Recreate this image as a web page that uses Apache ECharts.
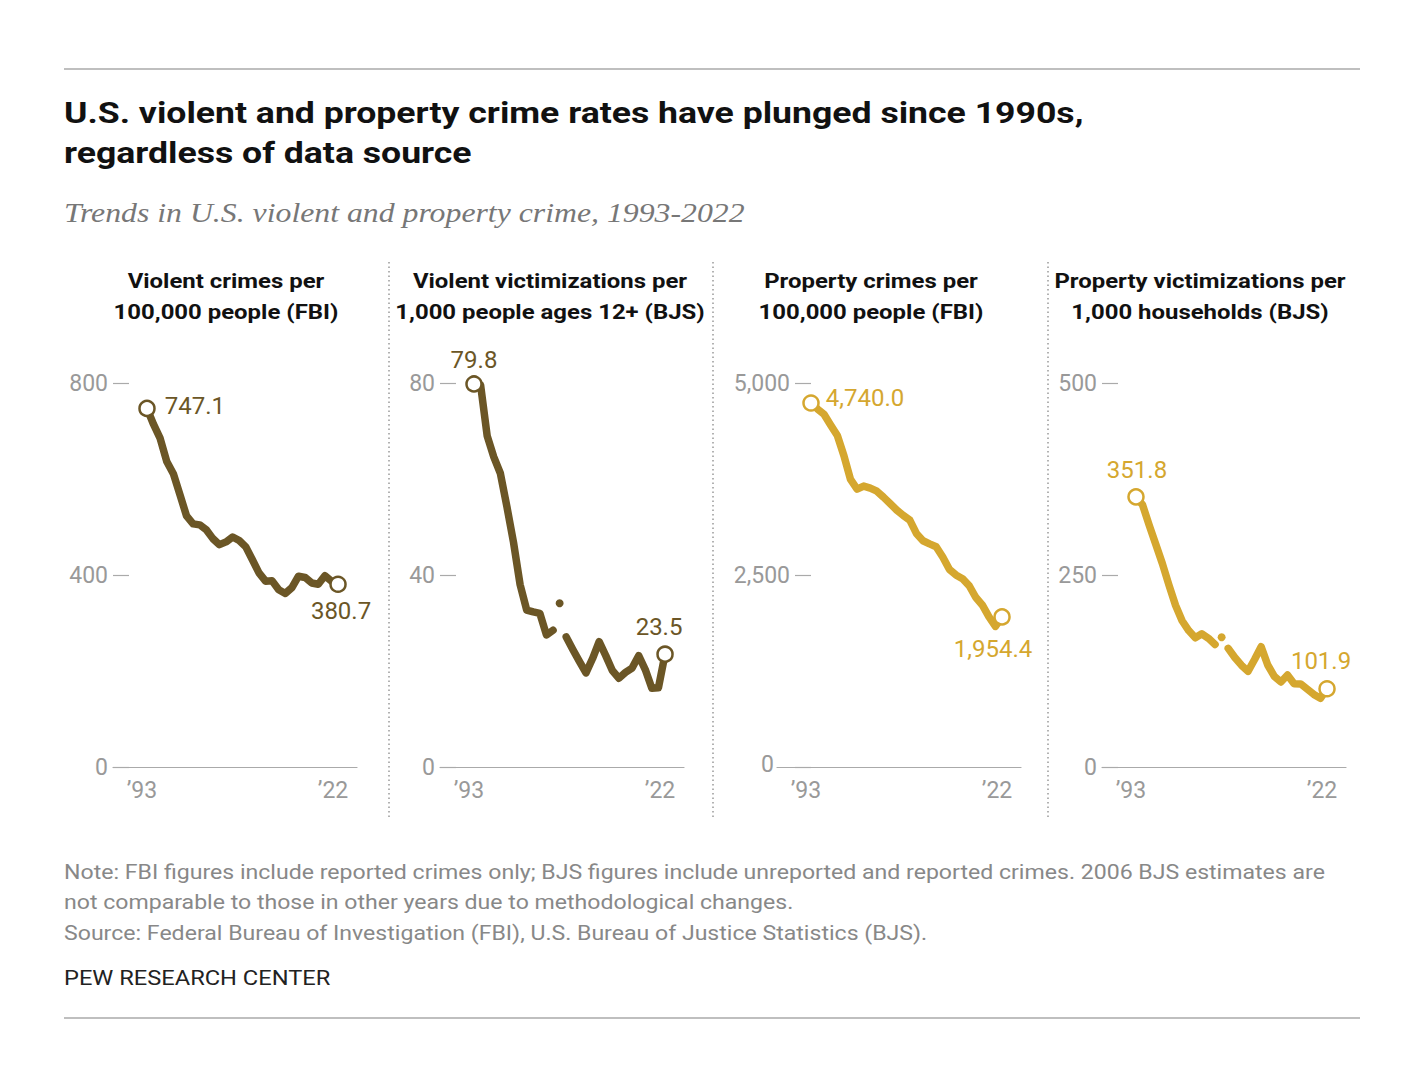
<!DOCTYPE html>
<html>
<head>
<meta charset="utf-8">
<script src="https://cdn.jsdelivr.net/npm/echarts@6/dist/echarts.min.js"></script>
<style>
html,body{margin:0;padding:0;background:#fff;}
#chart{width:1420px;height:1083px;}
</style>
</head>
<body>
<div id="chart"></div>
<script>
// ---------- DATA ----------
const years = [1993,1994,1995,1996,1997,1998,1999,2000,2001,2002,2003,2004,2005,2006,2007,2008,2009,2010,2011,2012,2013,2014,2015,2016,2017,2018,2019,2020,2021,2022];

// Violent crimes per 100,000 people (FBI)
const violentFBI = [747.1,713.6,684.5,636.6,611.0,567.6,523.0,506.5,504.5,494.4,475.8,463.2,469.0,479.3,471.8,458.6,431.9,404.5,387.1,387.8,369.1,361.6,373.7,397.5,394.9,383.4,380.8,398.5,387.0,380.7];

// Violent victimizations per 1,000 people ages 12+ (BJS); 2006 shown separately
const violentBJS = [79.8,79.6,69.0,64.6,61.2,54.2,46.8,38.0,32.7,32.3,32.0,27.5,28.5,null,27.1,24.5,22.0,19.6,22.6,26.1,23.2,20.1,18.5,19.7,20.6,23.2,20.3,16.4,16.5,23.5];
const violentBJS2006 = 34.1;

// Property crimes per 100,000 people (FBI)
const propertyFBI = [4740.0,4660.2,4590.5,4451.0,4316.3,4052.5,3743.6,3618.3,3658.1,3630.6,3591.2,3514.1,3431.5,3346.6,3276.4,3214.6,3041.3,2945.9,2905.4,2868.0,2733.6,2574.1,2500.5,2451.6,2362.9,2209.8,2109.9,1958.2,1832.3,1954.4];

// Property victimizations per 1,000 households (BJS); 2006 shown separately
const propertyBJS = [351.8,341.2,315.0,290.0,265.0,237.0,210.6,190.4,177.7,168.2,173.4,167.5,159.5,null,154.5,142.6,132.6,124.5,140.0,156.6,132.8,118.1,110.7,119.8,108.4,108.2,101.4,94.5,89.4,101.9];
const propertyBJS2006 = 168.9;

const panelTitles = [
  ["Violent crimes per","100,000 people (FBI)"],
  ["Violent victimizations per","1,000 people ages 12+ (BJS)"],
  ["Property crimes per","100,000 people (FBI)"],
  ["Property victimizations per","1,000 households (BJS)"]
];
const yMaxes = [800, 80, 5000, 500];
const yIntervals = [400, 40, 2500, 250];
const xLabelYears = [1993, 2022];

const titleLines = ["U.S. violent and property crime rates have plunged since 1990s,","regardless of data source"];
const subtitle = "Trends in U.S. violent and property crime, 1993-2022";
const noteLines = [
  "Note: FBI figures include reported crimes only; BJS figures include unreported and reported crimes. 2006 BJS estimates are",
  "not comparable to those in other years due to methodological changes.",
  "Source: Federal Bureau of Investigation (FBI), U.S. Bureau of Justice Statistics (BJS)."
];
const credit = "PEW RESEARCH CENTER";

// ---------- STYLE / LAYOUT ----------
const BROWN = '#6b5626';
const GOLD = '#d5a72f';
const FONT = 'Roboto, "Open Sans", sans-serif';
const gridLefts = [113, 440, 777, 1102];
const gridWidth = 244;
const yAxisOffsets = [0, 0, -18, 0];
const headerCenters = [226, 550, 871, 1200];
const separatorsX = [389, 713, 1048];

const panels = [
  {vals: violentFBI, color: BROWN, extra: null,
   startLabel: {position:'right', distance:9, offset:[0,-2]},
   endLabel: {position:'bottom', distance:6, offset:[3,0]}},
  {vals: violentBJS, color: BROWN, extra: violentBJS2006,
   startLabel: {position:'top', distance:3, offset:[0,0]},
   endLabel: {position:'top', distance:6, offset:[-6,0]}},
  {vals: propertyFBI, color: GOLD, extra: null,
   startLabel: {position:'right', distance:6, offset:[0,-5]},
   endLabel: {position:'bottom', distance:11, offset:[-9,0]}},
  {vals: propertyBJS, color: GOLD, extra: propertyBJS2006,
   startLabel: {position:'top', distance:6, offset:[1,0]},
   endLabel: {position:'top', distance:7, offset:[-6,0]}}
];

function fmt(v, comma){
  return comma ? v.toLocaleString('en-US',{minimumFractionDigits:1, maximumFractionDigits:1}) : v.toFixed(1);
}

const grids = [], xAxes = [], yAxes = [], series = [];
panels.forEach((p, i) => {
  grids.push({left: gridLefts[i], width: gridWidth, top: 383, height: 384, containLabel: false});
  xAxes.push({
    type: 'value', gridIndex: i, min: 1987.84, max: 2024.88,
    axisLine: {show: true, lineStyle: {color: '#aaa', width: 1.2}},
    axisTick: {show: false}, splitLine: {show: false},
    axisLabel: {customValues: xLabelYears, formatter: v => '\u2019' + String(v).slice(2),
      color: '#999', fontSize: 23, fontFamily: FONT, margin: 12, padding: [0, 10, 0, 0]}
  });
  const shiftZero = i === 2;
  yAxes.push({
    type: 'value', gridIndex: i, min: 0, max: yMaxes[i], interval: yIntervals[i], offset: yAxisOffsets[i],
    axisLine: {show: false},
    axisTick: {show: true, inside: true, length: 16, lineStyle: {color: '#aaa', width: 1.2}},
    splitLine: {show: false},
    axisLabel: {color: '#999', fontSize: 23, fontFamily: FONT, margin: 5,
      formatter: v => (v === 0 && shiftZero) ? '{z|0}' : v.toLocaleString('en-US'),
      rich: {z: {color: '#999', fontSize: 23, fontFamily: FONT, padding: [0, 16, 6, 0]}}}
  });
  const comma = p.vals[0] >= 1000;
  series.push({
    type: 'line', xAxisIndex: i, yAxisIndex: i, silent: true, z: 2,
    data: years.map((y, k) => [y, p.vals[k] === null ? '-' : p.vals[k]]),
    symbol: 'none', connectNulls: false,
    lineStyle: {color: p.color, width: 7.5, cap: 'round', join: 'round'}
  });
  const n = p.vals.length - 1;
  const lblBase = {show: true, color: p.color, fontSize: 24, fontFamily: FONT};
  series.push({
    type: 'scatter', xAxisIndex: i, yAxisIndex: i, silent: true, z: 4,
    symbol: 'circle', symbolSize: 15,
    itemStyle: {color: '#fff', borderColor: p.color, borderWidth: 2.5, opacity: 1},
    data: [
      {value: [years[0], p.vals[0]], label: Object.assign({}, lblBase, p.startLabel, {formatter: fmt(p.vals[0], comma)})},
      {value: [years[n], p.vals[n]], label: Object.assign({}, lblBase, p.endLabel, {formatter: fmt(p.vals[n], comma)})}
    ]
  });
  if (p.extra !== null) {
    series.push({
      type: 'scatter', xAxisIndex: i, yAxisIndex: i, silent: true, z: 3,
      symbol: 'circle', symbolSize: 8,
      itemStyle: {color: p.color, opacity: 1},
      data: [[2006, p.extra]]
    });
  }
});

// ---------- GRAPHIC TEXT ----------
const graphics = [];
graphics.push({type:'line', shape:{x1:64,y1:69,x2:1360,y2:69}, style:{stroke:'#aaa', lineWidth:1.5}});
graphics.push({type:'line', shape:{x1:64,y1:1018,x2:1360,y2:1018}, style:{stroke:'#aaa', lineWidth:1.5}});
titleLines.forEach((t, k) => graphics.push({type:'text', x:64, y:113 + k*40, scaleX:1.187,
  style:{text:t, fill:'#111', font:'bold 30px ' + FONT, textVerticalAlign:'middle'}}));
graphics.push({type:'text', x:64, y:212, scaleX:1.135,
  style:{text:subtitle, fill:'#777', font:'italic 28px "Liberation Serif", serif', textVerticalAlign:'middle'}});
panelTitles.forEach((lines, i) => lines.forEach((t, k) => graphics.push({type:'text', x:headerCenters[i], y:281 + k*31, scaleX:1.14,
  style:{text:t, fill:'#111', font:'bold 21px ' + FONT, textAlign:'center', textVerticalAlign:'middle'}})));
separatorsX.forEach(x => graphics.push({type:'line', shape:{x1:x,y1:262,x2:x,y2:818},
  style:{stroke:'#999', lineWidth:1.5, lineDash:[1.5,3]}}));
noteLines.forEach((t, k) => graphics.push({type:'text', x:64, y:872 + k*30.5, scaleX:1.155,
  style:{text:t, fill:'#888', font:'20px ' + FONT, textVerticalAlign:'middle'}}));
graphics.push({type:'text', x:64, y:977, scaleX:1.127,
  style:{text:credit, fill:'#222', font:'21px ' + FONT, textVerticalAlign:'middle'}});

const chart = echarts.init(document.getElementById('chart'), null, {renderer: 'svg'});
chart.setOption({
  animation: false,
  backgroundColor: '#fff',
  grid: grids, xAxis: xAxes, yAxis: yAxes, series: series,
  graphic: graphics
});
</script>
</body>
</html>
